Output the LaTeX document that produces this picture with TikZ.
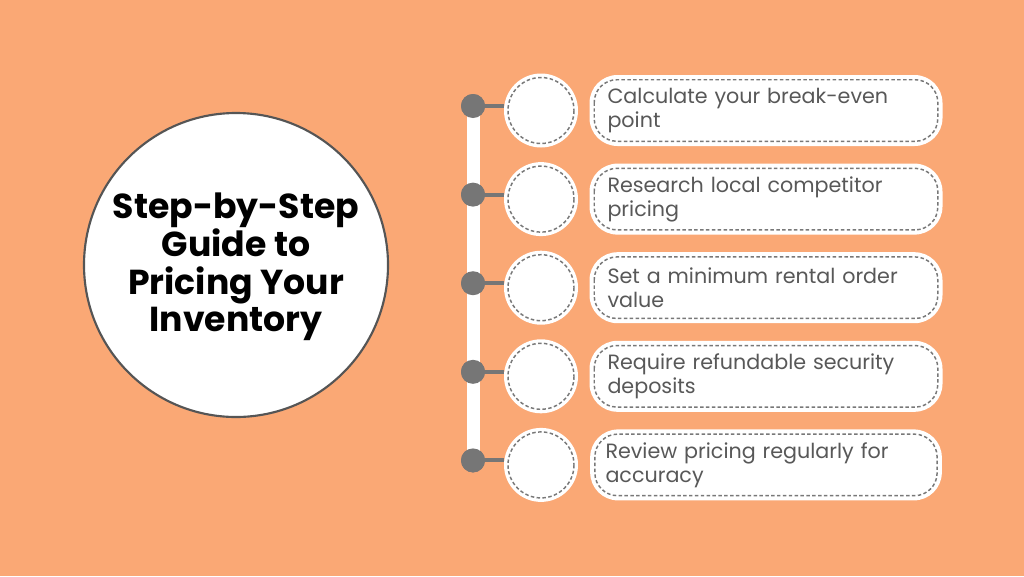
\documentclass[tikz,border=0pt]{standalone}
\usepackage{fontspec}
\setmainfont{Poppins}
\definecolor{bg}{RGB}{250,168,117}
\definecolor{dotgray}{RGB}{118,118,118}
\definecolor{rimgray}{RGB}{85,85,85}
\definecolor{txtgray}{RGB}{88,88,88}
\definecolor{dashgray}{RGB}{120,120,120}
\begin{document}
\begin{tikzpicture}[x=0.75pt,y=-0.75pt,
  bigc/.style={circle,fill=white,draw=rimgray,line width=1.6pt,minimum size=228pt,inner sep=0pt},
  dotn/.style={circle,fill=dotgray,minimum size=18pt,inner sep=0pt},
  smallc/.style={circle,fill=white,minimum size=55.5pt,inner sep=0pt},
  stepbox/.style={rectangle,rounded corners=21pt,fill=white,minimum height=53.25pt,
    text width=237.75pt,inner xsep=13.5pt,inner ysep=0pt,align=left,
    text=txtgray,font=\fontsize{15.5pt}{18pt}\selectfont},
  dashline/.style={draw=dashgray,line width=1.1pt,dash pattern=on 2.6pt off 1.8pt},
  spine/.style={draw=white,line width=9.75pt},
  link/.style={draw=dotgray,line width=3pt}]
\fill[bg] (0,0) rectangle (1024,576);
\useasboundingbox (0,0) rectangle (1024,576);

% title circle
\node[bigc] (title) at (236,265) {};
\node[align=center,font=\bfseries\fontsize{26pt}{28.3pt}\selectfont,text=black] (tt) at (236,267)
  {Step-by-Step\\Guide to\\Pricing Your\\Inventory};

% dots
\foreach \i/\y in {1/106,2/194.6,3/283.2,4/371.8,5/460.4}{
  \node[dotn] (d\i) at (473,\y) {};
}
\draw[spine] (d1.center) -- (d5.center);
\foreach \i/\y in {1/106,2/194.6,3/283.2,4/371.8,5/460.4}{
  \node[smallc] (c\i) at (541,\y+4.5) {};
  \draw[dashline] (c\i.center) circle (33);
  \draw[link] (d\i.center) -- (d\i.center -| c\i.west);
  \node[dotn] at (d\i.center) {};
}

% boxes
\node[stepbox] (b1) at (766,110.5) {Calculate your break-even\\point};
\node[stepbox] (b2) at (766,199.1) {Research local competitor\\pricing};
\node[stepbox] (b3) at (766,287.7) {Set a minimum rental order\\value};
\node[stepbox] (b4) at (766,376.3) {Require refundable security\\deposits};
\node[stepbox,inner xsep=11.5pt,text width=240.75pt] (b5) at (766,464.9) {Review pricing regularly for\\accuracy};
\foreach \i in {1,...,5}{
  \draw[dashline,rounded corners=17pt] ([shift={(5,5)}]b\i.north west) rectangle ([shift={(-5,-5)}]b\i.south east);
}
\end{tikzpicture}
\end{document}
